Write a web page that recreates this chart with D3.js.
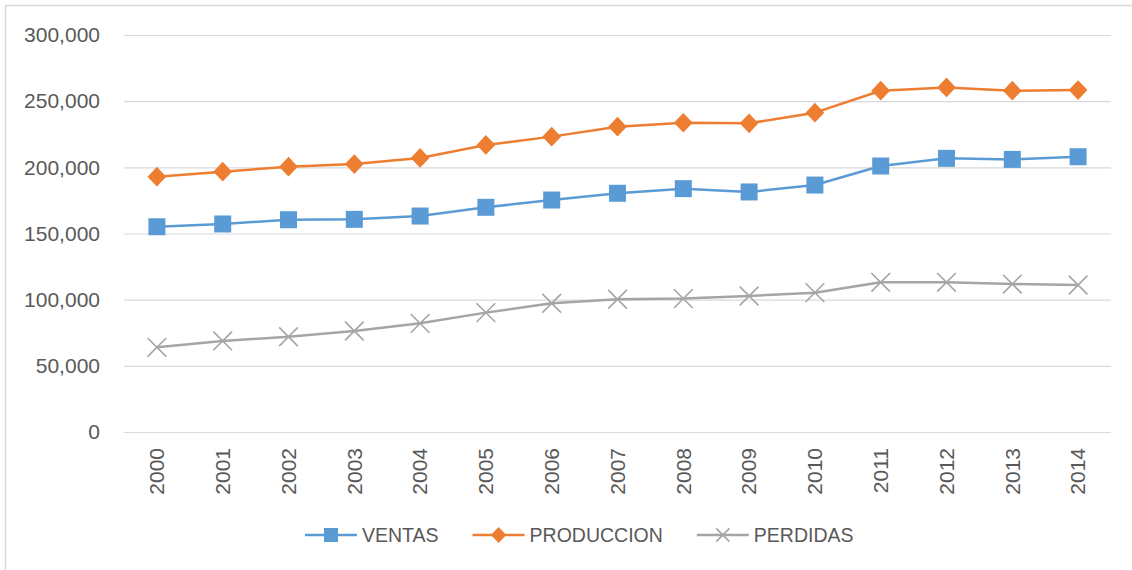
<!DOCTYPE html>
<html>
<head>
<meta charset="utf-8">
<script src="https://cdn.jsdelivr.net/npm/d3@7"></script>
<style>
  html, body { margin: 0; padding: 0; background: #fff; }
  svg { display: block; font-family: "Liberation Sans", Arial, sans-serif; }
</style>
</head>
<body>
<svg id="chart" width="1132" height="570"></svg>
<script>
// data
var years = ["2000","2001","2002","2003","2004","2005","2006","2007","2008","2009","2010","2011","2012","2013","2014"];
var ventas = [155100, 157200, 160400, 160700, 163200, 169800, 175300, 180400, 183900, 181400, 186600, 201000, 206800, 206000, 208000];
var produccion = [192900, 196700, 200500, 202500, 207100, 216900, 223200, 230700, 233700, 233300, 241300, 257900, 260400, 257900, 258400];
var perdidas = [64000, 68800, 72000, 76300, 82100, 90200, 97300, 100300, 100800, 102800, 105300, 113100, 113100, 111800, 111100];
var yTicks = [0, 50000, 100000, 150000, 200000, 250000, 300000];
var seriesNames = ["VENTAS", "PRODUCCION", "PERDIDAS"];

var colors = {"VENTAS": "#5b9bd5", "PRODUCCION": "#ed7d31", "PERDIDAS": "#a5a5a5"};
var textColor = "#595959";

var svg = d3.select("#chart");

// outer chart border (runs off the right / bottom edge like the original)
svg.append("rect")
  .attr("x", 5.5).attr("y", 5.5)
  .attr("width", 1150).attr("height", 590)
  .attr("fill", "none")
  .attr("stroke", "#d9d9d9")
  .attr("stroke-width", 1.5);

var plotLeft = 124, plotRight = 1111, plotTop = 35, plotBottom = 432;

var x = d3.scaleBand().domain(years).range([plotLeft, plotRight]).padding(0);
var cx = function(d) { return x(d) + x.bandwidth() / 2; };
var y = d3.scaleLinear().domain([0, 300000]).range([plotBottom, plotTop]);

// y axis + gridlines
var yAxis = svg.append("g")
  .attr("transform", "translate(" + plotLeft + ",0)")
  .call(d3.axisLeft(y)
    .tickValues(yTicks)
    .tickFormat(d3.format(","))
    .tickSize(-(plotRight - plotLeft))
    .tickPadding(24));
yAxis.select(".domain").remove();
yAxis.selectAll(".tick line").attr("stroke", "#d9d9d9").attr("stroke-width", 1.2);
yAxis.selectAll(".tick text")
  .attr("fill", textColor)
  .style("font-size", "21px")
  .style("font-family", "'Liberation Sans', Arial, sans-serif");

// x axis, rotated year labels
var xAxis = svg.append("g")
  .attr("transform", "translate(0," + plotBottom + ")")
  .call(d3.axisBottom(x).tickSize(0));
xAxis.select(".domain").remove();
xAxis.selectAll(".tick text")
  .attr("transform", "rotate(-90)")
  .attr("x", -16)
  .attr("y", 0)
  .attr("dy", "0.35em")
  .attr("text-anchor", "end")
  .attr("fill", textColor)
  .style("font-size", "21px")
  .style("font-family", "'Liberation Sans', Arial, sans-serif");

var seriesData = [
  {name: "VENTAS", values: ventas},
  {name: "PRODUCCION", values: produccion},
  {name: "PERDIDAS", values: perdidas}
];

var line = d3.line()
  .x(function(d, i) { return cx(years[i]); })
  .y(function(d) { return y(d); });

// draws a marker of a given series into a group at (0,0)
var drawMarker = function(g, name, s) {
  var c = colors[name];
  if (name === "VENTAS") {
    g.append("rect")
      .attr("x", -s / 2).attr("y", -s / 2)
      .attr("width", s).attr("height", s)
      .attr("fill", c);
  } else if (name === "PRODUCCION") {
    var h = s * 0.58;
    g.append("path")
      .attr("d", "M0," + (-h) + "L" + (h * 0.95) + ",0L0," + h + "L" + (-h * 0.95) + ",0Z")
      .attr("fill", c);
  } else {
    var r = s * 0.55;
    g.append("path")
      .attr("d", "M" + (-r) + "," + (-r) + "L" + r + "," + r + "M" + (-r) + "," + r + "L" + r + "," + (-r))
      .attr("stroke", c)
      .attr("stroke-width", 1.6)
      .attr("fill", "none");
  }
};

seriesData.forEach(function(s) {
  svg.append("path")
    .datum(s.values)
    .attr("d", line)
    .attr("fill", "none")
    .attr("stroke", colors[s.name])
    .attr("stroke-width", 2.5)
    .attr("stroke-linejoin", "round");

  svg.append("g").selectAll("g")
    .data(s.values)
    .enter().append("g")
    .attr("transform", function(d, i) { return "translate(" + cx(years[i]) + "," + y(d) + ")"; })
    .each(function() { drawMarker(d3.select(this), s.name, 17); });
});

// legend
var legend = svg.append("g").attr("transform", "translate(305,535)");
var lx = 0;
seriesNames.forEach(function(name) {
  var item = legend.append("g").attr("transform", "translate(" + lx + ",0)");
  item.append("line")
    .attr("x1", 0).attr("x2", 52)
    .attr("y1", 0).attr("y2", 0)
    .attr("stroke", colors[name])
    .attr("stroke-width", 2.5);
  var m = item.append("g").attr("transform", "translate(26,0)");
  drawMarker(m, name, name === "PERDIDAS" ? 12 : 14);
  var t = item.append("text")
    .attr("x", 57)
    .attr("y", 0)
    .attr("dy", "0.35em")
    .attr("fill", textColor)
    .style("font-size", "19.5px")
    .text(name);
  lx += 57 + t.node().getComputedTextLength() + 34;
});
</script>
</body>
</html>
